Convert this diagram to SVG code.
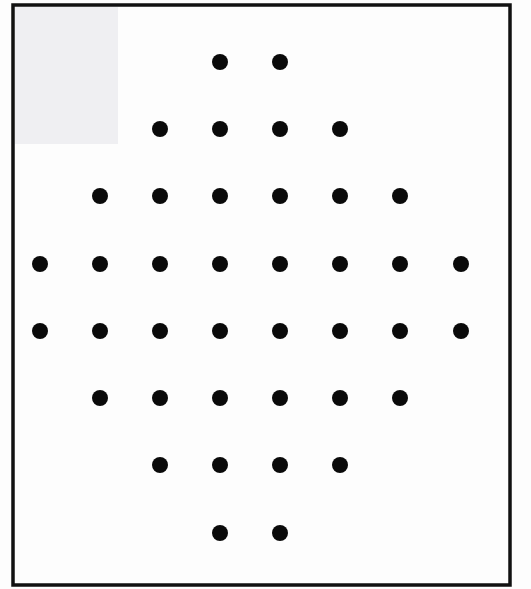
<svg xmlns="http://www.w3.org/2000/svg" width="531" height="589" viewBox="0 0 531 589">
<style>
.dot{fill:#0a0a0a}
.frame{fill:none;stroke:#111;stroke-width:3.5}
</style>
<rect x="0" y="0" width="531" height="589" fill="#fdfdfd"/>
<rect x="15" y="7" width="103" height="137" fill="#efeff2"/>
<g id="frame"><rect class="frame" x="13" y="5" width="497" height="580"/></g>
<g id="dots">
<circle class="dot" cx="220" cy="62" r="8"/><circle class="dot" cx="280" cy="62" r="8"/>
<circle class="dot" cx="160" cy="129" r="8"/><circle class="dot" cx="220" cy="129" r="8"/><circle class="dot" cx="280" cy="129" r="8"/><circle class="dot" cx="340" cy="129" r="8"/>
<circle class="dot" cx="100" cy="196" r="8"/><circle class="dot" cx="160" cy="196" r="8"/><circle class="dot" cx="220" cy="196" r="8"/><circle class="dot" cx="280" cy="196" r="8"/><circle class="dot" cx="340" cy="196" r="8"/><circle class="dot" cx="400" cy="196" r="8"/>
<circle class="dot" cx="40" cy="264" r="8"/><circle class="dot" cx="100" cy="264" r="8"/><circle class="dot" cx="160" cy="264" r="8"/><circle class="dot" cx="220" cy="264" r="8"/><circle class="dot" cx="280" cy="264" r="8"/><circle class="dot" cx="340" cy="264" r="8"/><circle class="dot" cx="400" cy="264" r="8"/><circle class="dot" cx="461" cy="264" r="8"/>
<circle class="dot" cx="40" cy="331" r="8"/><circle class="dot" cx="100" cy="331" r="8"/><circle class="dot" cx="160" cy="331" r="8"/><circle class="dot" cx="220" cy="331" r="8"/><circle class="dot" cx="280" cy="331" r="8"/><circle class="dot" cx="340" cy="331" r="8"/><circle class="dot" cx="400" cy="331" r="8"/><circle class="dot" cx="461" cy="331" r="8"/>
<circle class="dot" cx="100" cy="398" r="8"/><circle class="dot" cx="160" cy="398" r="8"/><circle class="dot" cx="220" cy="398" r="8"/><circle class="dot" cx="280" cy="398" r="8"/><circle class="dot" cx="340" cy="398" r="8"/><circle class="dot" cx="400" cy="398" r="8"/>
<circle class="dot" cx="160" cy="465" r="8"/><circle class="dot" cx="220" cy="465" r="8"/><circle class="dot" cx="280" cy="465" r="8"/><circle class="dot" cx="340" cy="465" r="8"/>
<circle class="dot" cx="220" cy="533" r="8"/><circle class="dot" cx="280" cy="533" r="8"/>
</g>
</svg>
